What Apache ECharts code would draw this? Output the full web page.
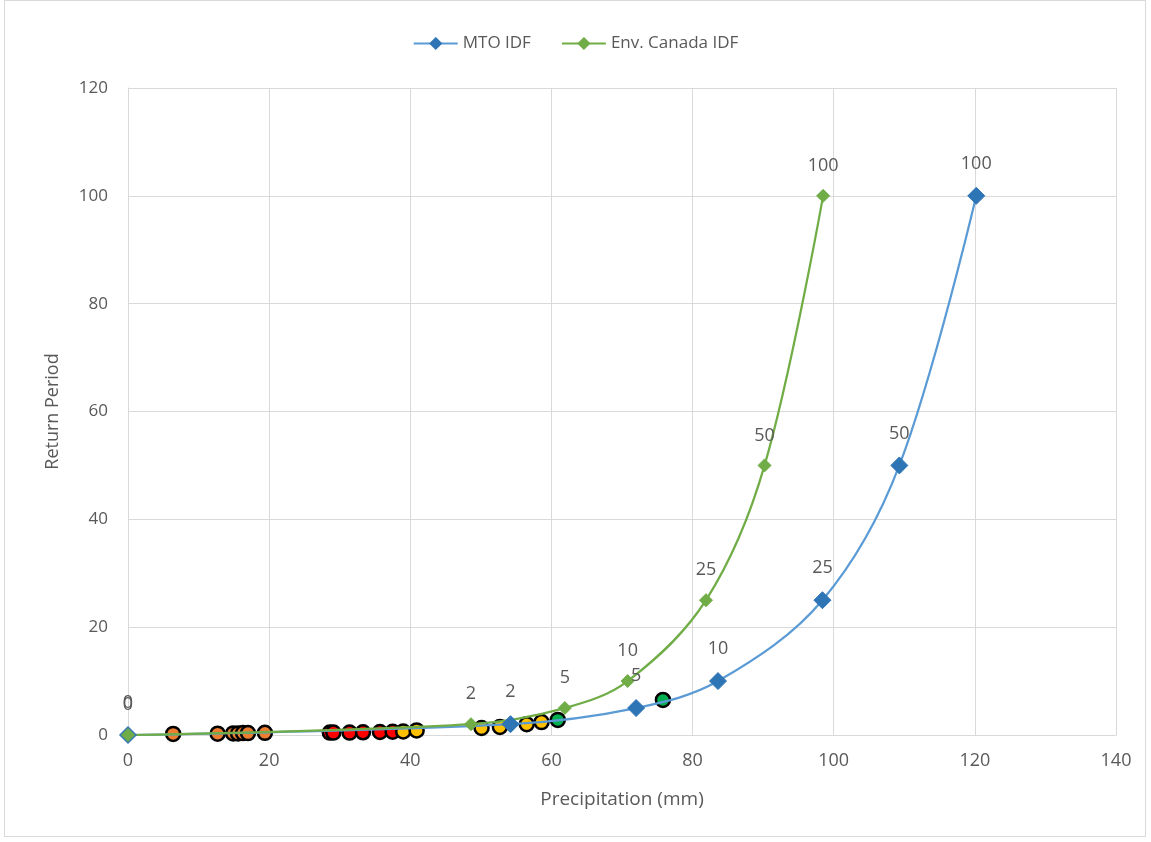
<!DOCTYPE html>
<html>
<head>
<meta charset="utf-8">
<title>Return Period vs Precipitation</title>
<script src="https://cdn.jsdelivr.net/npm/echarts@6/dist/echarts.min.js"></script>
<style>
  html, body { margin: 0; padding: 0; background: #ffffff; }
  #wrap { position: relative; width: 1151px; height: 842px; }
  #frame { position: absolute; left: 4px; top: 0px; width: 1142px; height: 837px; border: 1px solid #d9d9d9; box-sizing: border-box; pointer-events: none; }
  #chart { position: absolute; left: 0; top: 0; width: 1151px; height: 842px; }
</style>
</head>
<body>
<div id="wrap">
  <div id="chart"></div>
  <div id="frame"></div>
</div>
<script>
// IDF curves: precipitation (mm) for each return period (years)
const returnPeriods = [0, 2, 5, 10, 25, 50, 100];
const mtoPrecip = [0, 54.2, 72.0, 83.6, 98.4, 109.3, 120.2];
const envCanadaPrecip = [0, 48.6, 61.9, 70.8, 81.9, 90.2, 98.5];

// Observed annual maxima, grouped by marker colour: [precipitation, return period]
const obsOrange = [[6.4, 0.2], [12.7, 0.25], [14.9, 0.3], [15.6, 0.3], [16.3, 0.35], [17.0, 0.35], [19.4, 0.4]];
const obsRed = [[28.6, 0.45], [29.1, 0.45], [31.4, 0.45], [33.3, 0.5], [35.7, 0.55], [37.5, 0.6]];
const obsYellow = [[39.0, 0.65], [40.9, 0.85], [50.1, 1.3], [52.7, 1.5], [56.5, 2.0], [58.6, 2.4]];
const obsGreen = [[60.9, 2.8], [75.8, 6.5]];

const xTicks = { min: 0, max: 140, interval: 20 };
const yTicks = { min: 0, max: 120, interval: 20 };

const textColor = '#595959';
const fontFamily = '"Open Sans", "Noto Sans", sans-serif';
const narrowFont = '"Liberation Sans Narrow", "Open Sans", sans-serif';

function pairs(xs, ys) {
  return xs.map((x, i) => [x, ys[i]]);
}

function obsSeries(name, data, color) {
  return {
    name: name,
    type: 'scatter',
    data: data,
    symbol: 'circle',
    symbolSize: 14,
    itemStyle: { color: color, opacity: 1, borderColor: '#000000', borderWidth: 2.5 },
    z: 2,
    silent: true
  };
}

function idfSeries(name, xs, lineColor, markerColor, size) {
  return {
    name: name,
    type: 'line',
    data: pairs(xs, returnPeriods),
    smooth: 0.35,
    symbol: 'diamond',
    symbolSize: size,
    showAllSymbol: true,
    lineStyle: { color: lineColor, width: 2.25 },
    itemStyle: { color: markerColor, borderColor: markerColor, borderWidth: 1 },
    label: {
      show: true,
      position: 'top',
      distance: 14,
      color: textColor,
      fontSize: 18,
      fontFamily: fontFamily,
      formatter: p => String(p.value[1])
    },
    z: 3
  };
}

const chart = echarts.init(document.getElementById('chart'), null, { renderer: 'canvas' });
chart.setOption({
  backgroundColor: '#ffffff',
  animation: false,
  textStyle: { fontFamily: fontFamily },
  legend: {
    data: ['MTO IDF', 'Env. Canada IDF'],
    top: 30,
    left: 'center',
    itemWidth: 44,
    itemHeight: 13,
    itemGap: 30,
    textStyle: { color: textColor, fontSize: 17, fontFamily: fontFamily }
  },
  grid: { left: 128, right: 35, top: 88, bottom: 107, containLabel: false },
  xAxis: {
    type: 'value',
    min: xTicks.min, max: xTicks.max, interval: xTicks.interval,
    name: 'Precipitation (mm)',
    nameLocation: 'middle',
    nameGap: 55,
    nameTextStyle: { color: textColor, fontSize: 19, fontFamily: narrowFont },
    axisLine: { show: true, lineStyle: { color: '#d9d9d9' } },
    axisTick: { show: false },
    axisLabel: { color: textColor, fontSize: 18, margin: 17, fontFamily: narrowFont },
    splitLine: { show: true, lineStyle: { color: '#d9d9d9', width: 1 } }
  },
  yAxis: {
    type: 'value',
    min: yTicks.min, max: yTicks.max, interval: yTicks.interval,
    name: 'Return Period',
    nameLocation: 'middle',
    nameGap: 66,
    nameRotate: 90,
    nameTextStyle: { color: textColor, fontSize: 18, fontFamily: fontFamily },
    axisLine: { show: true, lineStyle: { color: '#d9d9d9' } },
    axisTick: { show: false },
    axisLabel: { color: textColor, fontSize: 17, margin: 20 },
    splitLine: { show: true, lineStyle: { color: '#d9d9d9', width: 1 } }
  },
  series: [
    obsSeries('Observed (orange)', obsOrange, '#ed7d31'),
    obsSeries('Observed (red)', obsRed, '#ff0000'),
    obsSeries('Observed (yellow)', obsYellow, '#ffc000'),
    obsSeries('Observed (green)', obsGreen, '#00b050'),
    idfSeries('MTO IDF', mtoPrecip, '#5b9bd5', '#2e75b6', 17),
    idfSeries('Env. Canada IDF', envCanadaPrecip, '#70ad47', '#70ad47', 13)
  ]
});
</script>
</body>
</html>
